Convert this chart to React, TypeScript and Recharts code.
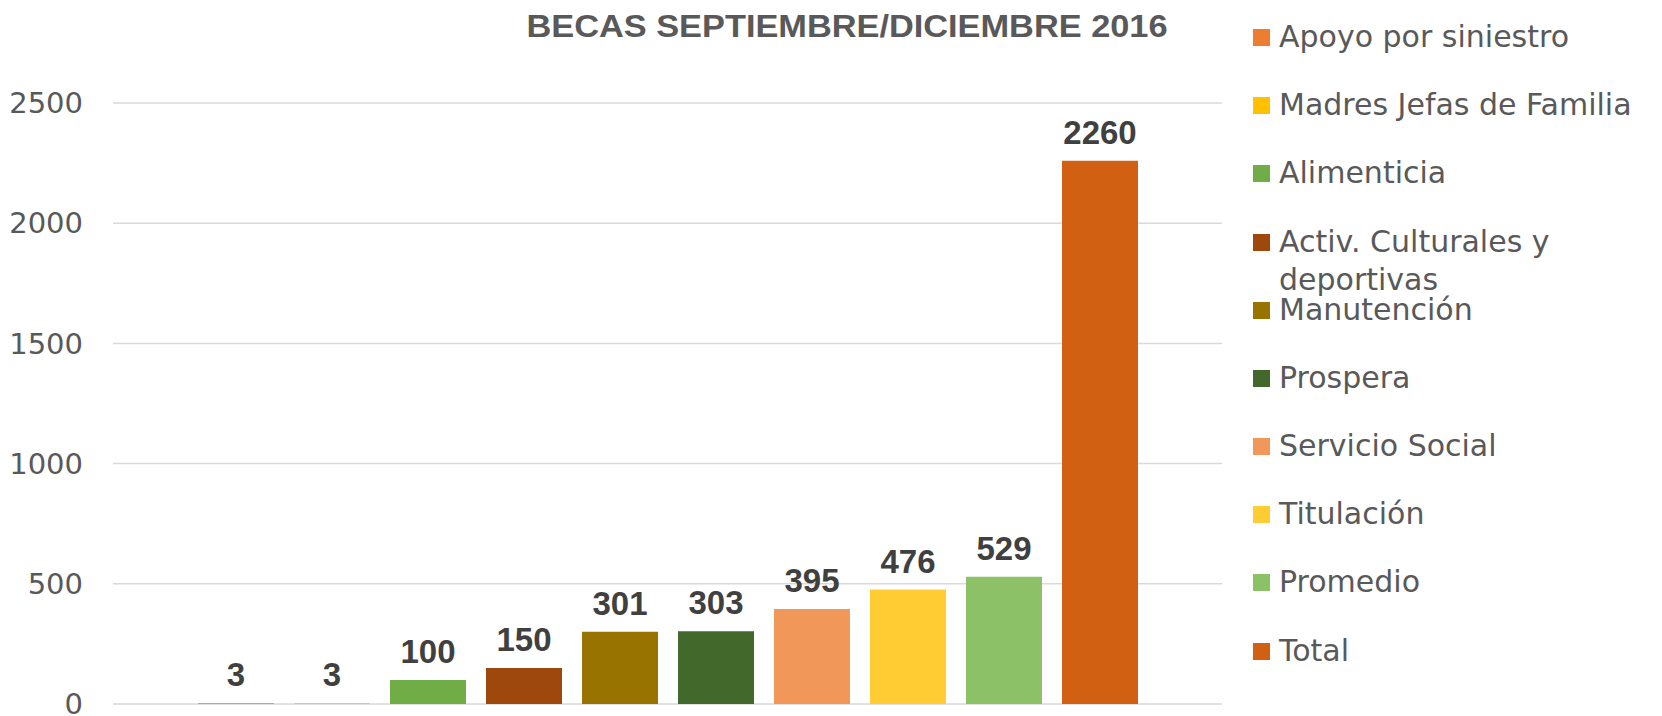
import React from "react";
import {
  BarChart,
  Bar,
  XAxis,
  YAxis,
  CartesianGrid,
  Legend,
  LabelList,
} from "recharts";

const seriesNames = [
  "Apoyo por siniestro",
  "Madres Jefas de Familia",
  "Alimenticia",
  "Activ. Culturales y deportivas",
  "Manutención",
  "Prospera",
  "Servicio Social",
  "Titulación",
  "Promedio",
  "Total",
];
const seriesValues = [3, 3, 100, 150, 301, 303, 395, 476, 529, 2260];
const seriesColors = [
  "#ED7D31",
  "#FFC000",
  "#70AD47",
  "#9E480E",
  "#997300",
  "#43682B",
  "#F1975A",
  "#FFCD33",
  "#8CC168",
  "#D26012",
];
const yTicks = [0, 500, 1000, 1500, 2000, 2500];

const keys = seriesNames.map((_, i) => `s${i}`);
const row: Record<string, string | number> = { name: "" };
keys.forEach((k, i) => (row[k] = seriesValues[i]));
const data = [row];

const W = 1662;
const H = 716;
const LEGEND_W = 420;

function LegendBox() {
  return (
    <div style={{ position: "relative", width: LEGEND_W, height: H }}>
      {seriesNames.map((name, i) => (
        <div
          key={name}
          style={{
            position: "absolute",
            left: 11,
            top: 37 + i * 68.17 - 19,
            display: "flex",
            alignItems: "flex-start",
          }}
        >
          <div
            style={{
              width: 17,
              height: 17,
              marginTop: 11,
              marginRight: 9,
              background: seriesColors[i],
              flex: "none",
            }}
          />
          <div
            style={{
              width: 385,
              fontFamily: "DejaVu Sans",
              fontSize: 30,
              lineHeight: "38px",
              color: "#595959",
            }}
          >
            {name}
          </div>
        </div>
      ))}
    </div>
  );
}

export default function App() {
  return (
    <div
      style={{
        position: "absolute",
        left: 0,
        top: 0,
        width: W,
        height: H,
        background: "#fff",
      }}
    >
      <BarChart
        width={W}
        height={H}
        data={data}
        margin={{ top: 103, right: 20, left: 0, bottom: 12 }}
        barGap={20}
      >
        <CartesianGrid vertical={false} stroke="#D9D9D9" strokeWidth={1.5} />
        <XAxis dataKey="name" hide />
        <YAxis
          domain={[0, 2500]}
          ticks={yTicks}
          interval={0}
          axisLine={false}
          tickLine={false}
          tickSize={0}
          tickMargin={30}
          width={113}
          tick={{ fontSize: 29, fill: "#595959", fontFamily: "DejaVu Sans" }}
        />
        <Legend
          layout="vertical"
          align="right"
          verticalAlign="top"
          wrapperStyle={{ top: 0, left: W - LEGEND_W, width: LEGEND_W }}
          content={() => <LegendBox />}
        />
        {keys.map((k, i) => (
          <Bar
            key={k}
            dataKey={k}
            name={seriesNames[i]}
            fill={seriesColors[i]}
            barSize={76}
            isAnimationActive={false}
          >
            <LabelList
              dataKey={k}
              position="top"
              offset={17}
              fill="#404040"
              fontSize={33}
              fontWeight="bold"
              fontFamily="Liberation Sans"
            />
          </Bar>
        ))}
      </BarChart>
      <svg
        width={W}
        height={60}
        style={{ position: "absolute", left: 0, top: 0, pointerEvents: "none" }}
      >
        <text
          x={847}
          y={37}
          textAnchor="middle"
          fontFamily="Liberation Sans"
          fontWeight="bold"
          fontSize={32}
          fill="#595959"
          textLength={641}
          lengthAdjust="spacingAndGlyphs"
        >
          BECAS SEPTIEMBRE/DICIEMBRE 2016
        </text>
      </svg>
    </div>
  );
}
